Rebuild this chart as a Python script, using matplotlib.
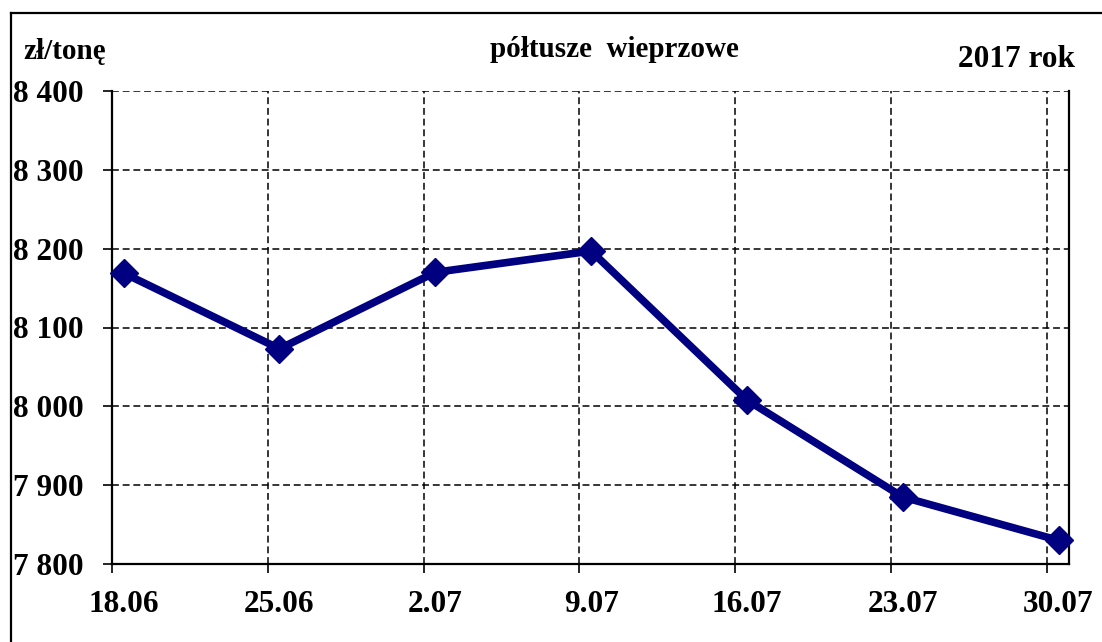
import numpy as np
import matplotlib.pyplot as plt
from matplotlib.lines import Line2D

# data
dates = ["18.06", "25.06", "2.07", "9.07", "16.07", "23.07", "30.07"]
prices = [8169, 8073, 8170, 8197, 8008, 7885, 7830]
yticks = [7800, 7900, 8000, 8100, 8200, 8300, 8400]

plt.rcParams['font.family'] = ['Liberation Serif', 'DejaVu Serif']
plt.rcParams['font.weight'] = 'bold'

fig = plt.figure(figsize=(11.02, 6.42), dpi=100)
ax = fig.add_axes([112 / 1102, 1 - 564 / 642, (1069 - 112) / 1102, (564 - 91) / 642])

x = np.arange(len(dates))
off = 0.075  # points sit a bit right of the grid lines
ax.plot(x + off, prices, color="#000080", lw=5.5, marker="D", ms=14,
        mfc="#000080", mec="#000080", zorder=5, clip_on=False)

ax.set_xlim(0, 6.142)
ax.set_ylim(7800, 8400)
ax.set_xticks(x)
ax.set_xticklabels([])
ax.set_xticks(x + off, minor=True)
ax.set_xticklabels(dates, minor=True, fontsize=22.5, fontweight="bold")
ax.set_yticks(yticks)
ax.set_yticklabels([f"{v // 1000} {v % 1000:03d}" for v in yticks],
                   fontsize=22.5, fontweight="bold")

ax.tick_params(axis="x", which="major", direction="out", length=6.5, width=1.2, color="black")
ax.tick_params(axis="x", which="minor", length=0, pad=19)
ax.tick_params(axis="y", direction="out", length=6.5, width=1.2, pad=14)

ax.grid(True, which="major", color="black", linestyle=(0, (4.5, 2.5)), linewidth=1.1)
ax.set_axisbelow(True)
ax.spines["top"].set_visible(False)
for s in ["left", "bottom", "right"]:
    ax.spines[s].set_linewidth(1.6)
    ax.spines[s].set_color("black")

# texts above the plot
fig.text(23 / 1102, 1 - 59 / 642, "zł/tonę", fontsize=21, fontweight="bold",
         ha="left", va="baseline")
fig.text(614 / 1102, 1 - 57 / 642, "półtusze  wieprzowe", fontsize=21, fontweight="bold",
         ha="center", va="baseline")
fig.text(1075 / 1102, 1 - 67 / 642, "2017 rok", fontsize=22.5, fontweight="bold",
         ha="right", va="baseline")

# outer frame (left and top edges visible)
fig.add_artist(Line2D([11 / 1102, 11 / 1102], [0, 1 - 13 / 642], color="black", lw=1.6))
fig.add_artist(Line2D([11 / 1102, 1], [1 - 13 / 642, 1 - 13 / 642], color="black", lw=1.6))

fig.savefig("out.png", dpi=100)
